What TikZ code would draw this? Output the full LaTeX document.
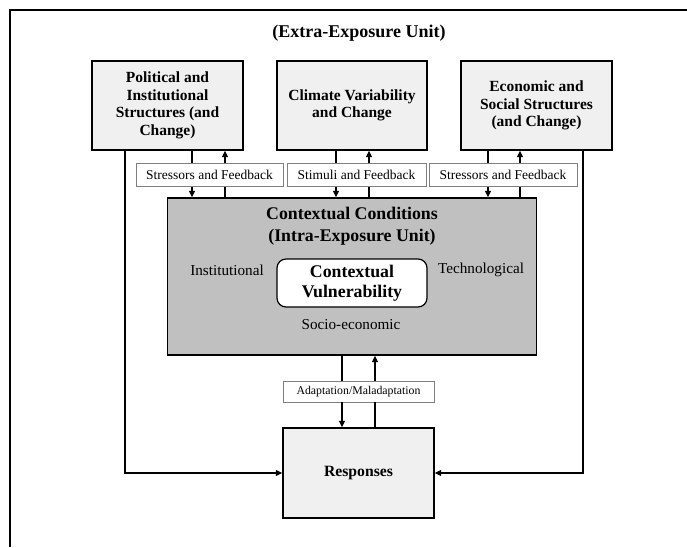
\documentclass[tikz,border=0pt]{standalone}
\usepackage{fontspec}
\setmainfont{Liberation Serif}
\usetikzlibrary{arrows.meta}

\definecolor{panelfill}{HTML}{F0F0F0}
\definecolor{contextfill}{HTML}{C0C0C0}
\definecolor{tagborder}{HTML}{808080}

\tikzset{
  framebox/.style={draw=black, line width=1.4pt, fill=panelfill, align=center,
    inner sep=0pt, font=\bfseries\fontsize{15.5}{17.6}\selectfont},
  tagbox/.style={draw=tagborder, line width=0.9pt, fill=white, inner sep=0pt,
    font=\fontsize{13.5}{15}\selectfont},
  link/.style={draw=black, line width=1.2pt},
  flow/.style={link, -{Triangle[length=6.5pt,width=6pt]}},
  side/.style={font=\fontsize{15.2}{17}\selectfont}
}

\begin{document}
\begin{tikzpicture}[x=1pt, y=-1pt]
\useasboundingbox (0,0) rectangle (687,547);

% outer frame (top and left edges)
\coordinate (fc) at (10,10);
\coordinate (ftr) at (687,10);
\coordinate (fbl) at (10,547);
\draw[line width=2pt] (ftr) -- (fc) -- (fbl);

\node[font=\bfseries\fontsize{18}{21}\selectfont] (title) at (359,33) {(Extra-Exposure Unit)};

% driver boxes
\node[framebox, minimum width=151pt, minimum height=89pt] (pol) at (167.5,105.5)
  {Political and\\Institutional\\Structures (and\\Change)};
\node[framebox, minimum width=150pt, minimum height=89pt] (cli) at (352,105.5)
  {Climate Variability\\and Change};
\node[framebox, minimum width=151pt, minimum height=89pt] (eco) at (536.5,105.5)
  {Economic and\\Social Structures\\(and Change)};

% contextual conditions
\node[draw=black, line width=1.4pt, fill=contextfill, minimum width=369pt, minimum height=157pt] (ctx) at (352,276.5) {};
\node[font=\bfseries\fontsize{17.8}{22}\selectfont, align=center] (ctxt) at (352,226) {Contextual Conditions\\(Intra-Exposure Unit)};
\node[draw=black, line width=1.2pt, fill=white, rounded corners=9pt, minimum width=150pt, minimum height=48pt,
  align=center, font=\bfseries\fontsize{17.8}{20}\selectfont, inner sep=0pt] (vul) at (352,283) {Contextual\\Vulnerability};
\node[side] (inst) at (227,270) {Institutional};
\node[side] (tech) at (481,270) {Technological};
\node[side] (soc) at (351,325) {Socio-economic};

% responses
\node[framebox, minimum width=151pt, minimum height=90pt, font=\bfseries\fontsize{15.7}{18}\selectfont] (resp) at (358.5,473) {Responses};

% connector columns
\coordinate (pd) at (192,0);  \coordinate (pu) at (225,0);
\coordinate (cd) at (336,0);  \coordinate (cu) at (369,0);
\coordinate (ed) at (488,0);  \coordinate (eu) at (520,0);
\coordinate (rd) at (342,0);  \coordinate (ru) at (375,0);
\coordinate (pl) at (125,0);  \coordinate (er) at (583,0);

% label tags
\node[tagbox, minimum width=147pt, minimum height=23pt] (tp) at (209.5,175) {Stressors and Feedback};
\node[tagbox, minimum width=139pt, minimum height=23pt] (tc) at (356.5,175) {Stimuli and Feedback};
\node[tagbox, minimum width=148pt, minimum height=23pt] (te) at (503,175) {Stressors and Feedback};
\node[tagbox, minimum width=151pt, minimum height=21pt, font=\fontsize{11.8}{13}\selectfont] (ta) at (358.5,391.5) {Adaptation/Maladaptation};

% stressors, stimuli and feedback
\draw[link] (pol.south -| pd) -- (tp.north -| pd);
\draw[flow] (tp.south -| pd) -- (ctx.north -| pd);
\draw[link] (ctx.north -| pu) -- (tp.south -| pu);
\draw[flow] (tp.north -| pu) -- (pol.south -| pu);

\draw[link] (cli.south -| cd) -- (tc.north -| cd);
\draw[flow] (tc.south -| cd) -- (ctx.north -| cd);
\draw[link] (ctx.north -| cu) -- (tc.south -| cu);
\draw[flow] (tc.north -| cu) -- (cli.south -| cu);

\draw[link] (eco.south -| ed) -- (te.north -| ed);
\draw[flow] (te.south -| ed) -- (ctx.north -| ed);
\draw[link] (ctx.north -| eu) -- (te.south -| eu);
\draw[flow] (te.north -| eu) -- (eco.south -| eu);

% adaptation loop
\draw[link] (ctx.south -| rd) -- (ta.north -| rd);
\draw[flow] (ta.south -| rd) -- (resp.north -| rd);
\draw[link] (resp.north -| ru) -- (ta.south -| ru);
\draw[flow] (ta.north -| ru) -- (ctx.south -| ru);

% direct influences on responses
\draw[flow] (pol.south -| pl) |- (resp.west);
\draw[flow] (eco.south -| er) |- (resp.east);
\end{tikzpicture}
\end{document}
